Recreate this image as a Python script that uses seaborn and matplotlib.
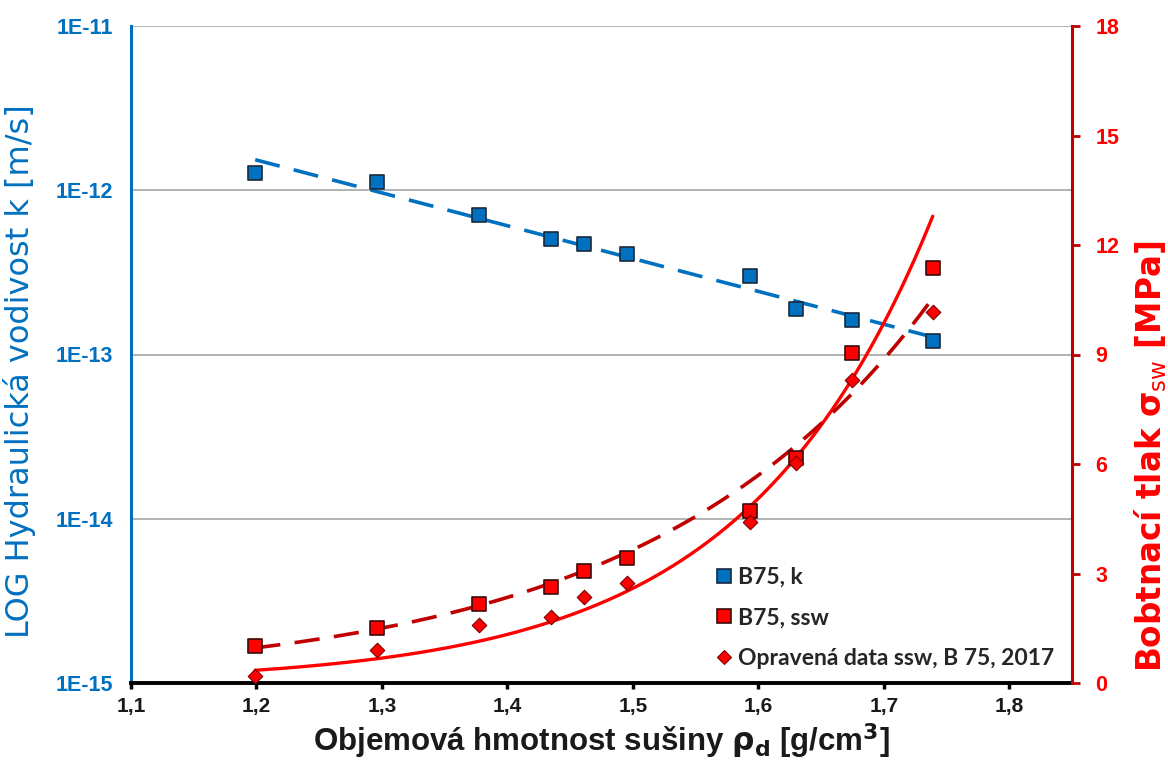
import numpy as np
import pandas as pd
import matplotlib
matplotlib.use("Agg")
import matplotlib.pyplot as plt
import seaborn as sns
from matplotlib.lines import Line2D
from matplotlib.ticker import FixedLocator, FuncFormatter, NullLocator

# ---------------- data ----------------
rho = [1.199, 1.296, 1.377, 1.435, 1.461, 1.495, 1.593, 1.630, 1.675, 1.739]
k_vals = [1.27e-12, 1.13e-12, 7.1e-13, 5.07e-13, 4.73e-13, 4.08e-13, 3.0e-13, 1.89e-13, 1.62e-13, 1.20e-13]
ssw_vals = [1.01, 1.51, 2.16, 2.63, 3.08, 3.42, 4.71, 6.17, 9.03, 11.36]
ssw2017_vals = [0.19, 0.90, 1.59, 1.81, 2.36, 2.73, 4.40, 6.02, 8.30, 10.16]

x_ticks = [1.1, 1.2, 1.3, 1.4, 1.5, 1.6, 1.7, 1.8]
k_ticks = [1e-15, 1e-14, 1e-13, 1e-12, 1e-11]
ssw_ticks = [0, 3, 6, 9, 12, 15, 18]

legend_labels = ["B75, k", "B75, ssw", "Opravená data ssw, B 75, 2017"]

BLUE = "#0070C0"
RED = "#FF0000"
DARKRED = "#C00000"

sns.set_theme(style="white")
plt.rcParams["font.family"] = ["Liberation Sans", "DejaVu Sans"]
plt.rcParams["mathtext.fontset"] = "custom"
plt.rcParams["mathtext.rm"] = "DejaVu Sans"
plt.rcParams["mathtext.it"] = "DejaVu Sans:italic"
plt.rcParams["mathtext.bf"] = "DejaVu Sans:bold"

df = pd.DataFrame({"rho": rho, "k": k_vals, "ssw": ssw_vals, "ssw2017": ssw2017_vals})

# trend lines (exponential fits, like Excel trendlines)
xs = np.linspace(min(rho), max(rho), 300)
pk = np.polyfit(df["rho"], np.log(df["k"]), 1)
ps = np.polyfit(df["rho"], np.log(df["ssw"]), 1)
p7 = np.polyfit(df["rho"], np.log(df["ssw2017"]), 1)
fit = pd.DataFrame({"x": xs,
                    "k": np.exp(np.polyval(pk, xs)),
                    "ssw": np.exp(np.polyval(ps, xs)),
                    "ssw2017": np.exp(np.polyval(p7, xs))})

fig = plt.figure(figsize=(11.68, 7.6), dpi=100)
ax = fig.add_axes([131 / 1168, 1 - 683 / 760, (1072 - 131) / 1168, (683 - 26) / 760])
ax2 = ax.twinx()

# left axis: hydraulic conductivity
sns.lineplot(data=fit, x="x", y="k", ax=ax, color=BLUE, lw=2.6, zorder=3)
ax.lines[-1].set_dashes((7, 4))
sns.scatterplot(data=df, x="rho", y="k", ax=ax, marker="s", s=110, color=BLUE,
                edgecolor="#1a2a3a", linewidth=1.2, zorder=4)

# right axis: swelling pressure
sns.lineplot(data=fit, x="x", y="ssw2017", ax=ax2, color=RED, lw=2.4, zorder=3)
sns.lineplot(data=fit, x="x", y="ssw", ax=ax2, color=DARKRED, lw=2.6, zorder=3)
ax2.lines[-1].set_dashes((7, 4))
sns.scatterplot(data=df, x="rho", y="ssw", ax=ax2, marker="s", s=110, color=RED,
                edgecolor="#3a0a0a", linewidth=1.2, zorder=4)
sns.scatterplot(data=df, x="rho", y="ssw2017", ax=ax2, marker="D", s=55, color=RED,
                edgecolor="#7a0000", linewidth=0.8, zorder=4)

# axes setup
ax.set_yscale("log")
ax.set_xlim(1.1, 1.85)
ax.set_ylim(1e-15, 1e-11)
ax2.set_ylim(0, 18)

ax.xaxis.set_major_locator(FixedLocator(x_ticks))
ax.xaxis.set_major_formatter(FuncFormatter(lambda v, p: f"{v:.1f}".replace(".", ",")))
ax.yaxis.set_major_locator(FixedLocator(k_ticks))
ax.yaxis.set_minor_locator(NullLocator())
ax.yaxis.set_major_formatter(FuncFormatter(lambda v, p: f"1E{int(round(np.log10(v)))}"))
ax2.yaxis.set_major_locator(FixedLocator(ssw_ticks))

ax.yaxis.grid(True, color="#A6A6A6", lw=1.2)
ax.xaxis.grid(False)
ax.set_axisbelow(True)

for s in ["top", "right"]:
    ax.spines[s].set_visible(False)
ax.spines["left"].set_color(BLUE)
ax.spines["left"].set_linewidth(2.2)
ax.spines["bottom"].set_color("black")
ax.spines["bottom"].set_linewidth(2.8)
for s in ["top", "left", "bottom"]:
    ax2.spines[s].set_visible(False)
ax2.spines["right"].set_color(DARKRED)
ax2.spines["right"].set_linewidth(2.2)

ax.tick_params(axis="x", which="major", direction="out", length=4, width=2.5,
               color="black", labelsize=15, labelcolor="#1a1a1a", pad=6, bottom=True)
ax.tick_params(axis="y", which="major", length=0, labelsize=15.5, labelcolor=BLUE, pad=13, left=False)
ax2.tick_params(axis="y", which="major", direction="out", length=6, width=2, color=DARKRED,
                labelsize=15.5, labelcolor=RED, pad=11, right=True)
for lbl in ax.get_xticklabels() + ax.get_yticklabels() + ax2.get_yticklabels():
    lbl.set_fontweight("bold")

ax.set_xlabel(r"Objemová hmotnost sušiny $\mathbf{\rho_d}$ [g/cm$\mathbf{^3}$]",
              fontsize=22.5, fontweight="bold", color="#1a1a1a", labelpad=4)
ax.xaxis.label.set_family(["Liberation Sans", "DejaVu Sans"])
plt.rcParams["mathtext.bf"] = "DejaVu Sans:bold"
ax.set_ylabel("LOG Hydraulická vodivost k [m/s]", fontsize=23, color=BLUE,
              family=["DejaVu Sans"])
ax.yaxis.set_label_coords(-0.101, 0.475)
ax2.set_ylabel(r"Bobtnací tlak $\mathbf{\sigma_{\mathrm{sw}}}$ [MPa]", fontsize=23.5,
               fontweight="bold", color=RED, family=["DejaVu Sans"])
ax2.yaxis.set_label_coords(1.064, 0.345)

handles = [
    Line2D([], [], ls="none", marker="s", ms=10, mfc=BLUE, mec="#1a2a3a", mew=1.2),
    Line2D([], [], ls="none", marker="s", ms=10, mfc=RED, mec="#3a0a0a", mew=1.2),
    Line2D([], [], ls="none", marker="D", ms=7, mfc=RED, mec="#7a0000", mew=0.8),
]
leg = ax2.legend(handles, legend_labels, loc="upper left", bbox_to_anchor=(0.598, 0.208),
                 frameon=False, handlelength=0.8, handletextpad=0.25, labelspacing=0.85,
                 prop={"family": "Lato", "weight": "bold", "size": 16.5})

fig.savefig("out.png", dpi=100)
